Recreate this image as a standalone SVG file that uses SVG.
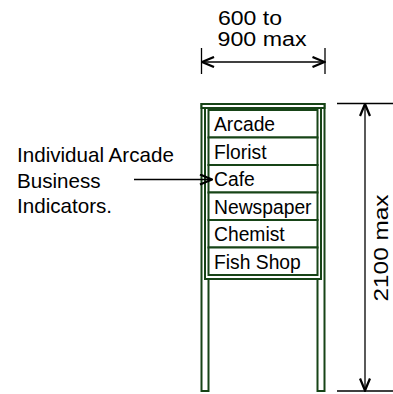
<svg xmlns="http://www.w3.org/2000/svg" width="393" height="394" viewBox="0 0 393 394">
<defs>
<style>
.t{font-family:"Liberation Sans",Arial,sans-serif;font-size:19.3px;fill:#000}
.n{font-size:20.6px}
.d{font-size:20px}
.fr{fill:#fff;stroke:#174417;stroke-width:2}
.dl{stroke:#000;stroke-width:1.3;fill:none}
</style>
<marker id="ah" viewBox="0 0 14 12" refX="13" refY="6" markerWidth="14" markerHeight="12" markerUnits="userSpaceOnUse" orient="auto-start-reverse">
<path d="M1,1 L13,6 L1,11" fill="none" stroke="#000" stroke-width="2.3"/>
</marker>
</defs>
<rect width="393" height="394" fill="#fff"/>
<g id="sign">
<rect class="fr" x="201.5" y="104" width="7" height="287"/>
<rect class="fr" x="317.5" y="104" width="7" height="287"/>
<rect class="fr" x="201.5" y="104" width="123" height="4"/>
<rect class="fr" x="205" y="108" width="116" height="171"/>
</g>
<g id="n-arcade"><rect class="fr" x="208.5" y="110" width="109" height="27.5"/><text class="t" x="214" y="131">Arcade</text></g>
<g id="n-florist"><rect class="fr" x="208.5" y="137.5" width="109" height="27.5"/><text class="t" x="214" y="158.5">Florist</text></g>
<g id="n-cafe"><rect class="fr" x="208.5" y="165" width="109" height="27.5"/><text class="t" x="214" y="186">Cafe</text></g>
<g id="n-newspaper"><rect class="fr" x="208.5" y="192.5" width="109" height="27.5"/><text class="t" x="214" y="213.5">Newspaper</text></g>
<g id="n-chemist"><rect class="fr" x="208.5" y="220" width="109" height="27.5"/><text class="t" x="214" y="241">Chemist</text></g>
<g id="n-fishshop"><rect class="fr" x="208.5" y="247.5" width="109" height="27.5"/><text class="t" x="214" y="268.5">Fish Shop</text></g>
<g id="n-width-label"><text class="t d" x="218" y="25" textLength="64" lengthAdjust="spacingAndGlyphs">600 to</text><text class="t d" x="217.5" y="45.5" textLength="89" lengthAdjust="spacingAndGlyphs">900 max</text></g>
<g id="n-height-label"><text class="t d" text-anchor="middle" transform="translate(388,248) rotate(-90)" textLength="107" lengthAdjust="spacingAndGlyphs">2100 max</text></g>
<g id="n-note"><text class="t n" x="17" y="162">Individual Arcade</text><text class="t n" x="17" y="187.5">Business</text><text class="t n" x="17" y="212.5">Indicators.</text></g>
<g id="connectors">
<line class="dl" x1="201.5" y1="48" x2="201.5" y2="74"/>
<line class="dl" x1="325" y1="48" x2="325" y2="74"/>
<line class="dl" x1="202" y1="62" x2="324.5" y2="62" marker-start="url(#ah)" marker-end="url(#ah)"/>
<line class="dl" x1="337" y1="103.5" x2="393" y2="103.5"/>
<line class="dl" x1="337" y1="391" x2="393" y2="391"/>
<line class="dl" x1="365" y1="104" x2="365" y2="390.5" marker-start="url(#ah)" marker-end="url(#ah)"/>
<line class="dl" x1="134" y1="179.5" x2="212" y2="179.5" marker-end="url(#ah)"/>
</g>
</svg>
